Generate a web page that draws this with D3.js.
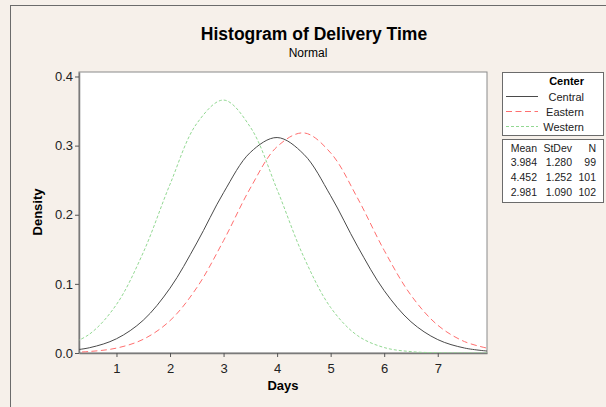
<!DOCTYPE html>
<html>
<head>
<meta charset="utf-8">
<script src="https://cdn.jsdelivr.net/npm/d3@7"></script>
<style>
  body { margin: 0; background: #f6f0ea; }
  svg { display: block; font-family: "Liberation Sans", Arial, sans-serif; }
</style>
</head>
<body>
<div id="chart"></div>
<script>
// values (fitted normal density per center)
const days = [0, 0.5, 1, 1.5, 2, 2.5, 3, 3.5, 4, 4.5, 5, 5.5, 6, 6.5, 7, 7.5, 8];
const central = [0.0025, 0.0077, 0.0206, 0.0474, 0.0938, 0.1592, 0.2320, 0.2902, 0.3117, 0.2874, 0.2275, 0.1546, 0.0902, 0.0452, 0.0194, 0.0072, 0.0023];
const eastern = [0.0006, 0.0022, 0.0071, 0.0198, 0.0468, 0.0945, 0.1626, 0.2386, 0.2985, 0.3184, 0.2895, 0.2244, 0.1484, 0.0836, 0.0402, 0.0165, 0.0057];
const western = [0.0087, 0.0275, 0.0702, 0.1454, 0.2441, 0.3320, 0.3659, 0.3268, 0.2364, 0.1386, 0.0658, 0.0253, 0.0079, 0.0020, 0.0004, 0.0001, 0.0000];

const centers = ["Central", "Eastern", "Western"];
const means = ["3.984", "4.452", "2.981"];
const stdevs = ["1.280", "1.252", "1.090"];
const counts = ["99", "101", "102"];

const xTicks = [1, 2, 3, 4, 5, 6, 7];
const yTicks = [0.0, 0.1, 0.2, 0.3, 0.4];

const W = 606, H = 407;
const plot = { left: 79, top: 72, right: 487, bottom: 353 };

const svg = d3.select("#chart").append("svg")
  .attr("width", W)
  .attr("height", H);

// outer frame
svg.append("rect")
  .attr("x", 0).attr("y", 0).attr("width", W).attr("height", H)
  .attr("fill", "#f6f0ea");
svg.append("rect")
  .attr("x", 10.5).attr("y", 5.5).attr("width", 700).attr("height", 500)
  .attr("fill", "none").attr("stroke", "#6b6b6b");

// title
svg.append("text")
  .attr("x", 314).attr("y", 40)
  .attr("text-anchor", "middle")
  .style("font-size", "17.5px").style("font-weight", "bold")
  .text("Histogram of Delivery Time");
svg.append("text")
  .attr("x", 308).attr("y", 57)
  .attr("text-anchor", "middle")
  .style("font-size", "12px")
  .text("Normal");

// scales
const x = d3.scaleLinear().domain([0.3, 7.92]).range([plot.left, plot.right]);
const y = d3.scaleLinear().domain([0, 0.4065]).range([plot.bottom, plot.top]);

svg.append("rect")
  .attr("x", plot.left).attr("y", plot.top)
  .attr("width", plot.right - plot.left).attr("height", plot.bottom - plot.top)
  .attr("fill", "#fff").attr("stroke", "#8a8a8a");

svg.append("clipPath").attr("id", "clip")
  .append("rect")
  .attr("x", plot.left).attr("y", plot.top)
  .attr("width", plot.right - plot.left).attr("height", plot.bottom - plot.top);

// axes
const xAxis = svg.append("g")
  .attr("transform", `translate(0,${plot.bottom})`)
  .call(d3.axisBottom(x).tickValues(xTicks).tickSize(4).tickSizeOuter(0).tickFormat(d3.format("d")));
const yAxis = svg.append("g")
  .attr("transform", `translate(${plot.left},0)`)
  .call(d3.axisLeft(y).tickValues(yTicks).tickSize(4).tickSizeOuter(0).tickFormat(d3.format(".1f")));

[xAxis, yAxis].forEach(g => {
  g.select(".domain").attr("stroke", "#7a7a7a").attr("stroke-width", 1.5);
  g.selectAll(".tick line").attr("stroke", "#555");
  g.selectAll(".tick text")
    .attr("fill", "#222")
    .style("font-size", "13px")
    .style("font-family", "'Liberation Sans', Arial, sans-serif");
});
xAxis.selectAll(".tick text").attr("dy", "1em");
yAxis.selectAll(".tick text").attr("x", -6);

svg.append("text")
  .attr("x", 283).attr("y", 390)
  .attr("text-anchor", "middle")
  .style("font-size", "13px").style("font-weight", "bold")
  .text("Days");
svg.append("text")
  .attr("transform", "translate(42,212) rotate(-90)")
  .attr("text-anchor", "middle")
  .style("font-size", "13px").style("font-weight", "bold")
  .text("Density");

// curves
const series = [
  { name: "Central", values: central, color: "#4a4a4a", dash: null },
  { name: "Eastern", values: eastern, color: "#ff6f6f", dash: "6,3.5" },
  { name: "Western", values: western, color: "#92d892", dash: "3,2" }
];

const line = d3.line()
  .x((d, i) => x(days[i]))
  .y(d => y(d))
  .curve(d3.curveCatmullRom);

const curves = svg.append("g").attr("clip-path", "url(#clip)");
series.forEach(s => {
  curves.append("path")
    .datum(s.values)
    .attr("d", line)
    .attr("fill", "none")
    .attr("stroke", s.color)
    .attr("stroke-width", 1)
    .attr("stroke-dasharray", s.dash);
});

// legend box
const lg = svg.append("g");
lg.append("rect")
  .attr("x", 502.5).attr("y", 72.5).attr("width", 101).attr("height", 63)
  .attr("fill", "#fff").attr("stroke", "#6b6b6b");
lg.append("text")
  .attr("x", 584).attr("y", 85)
  .attr("text-anchor", "end")
  .style("font-size", "11px").style("font-weight", "bold")
  .text("Center");
series.forEach((s, i) => {
  const yy = 96.5 + i * 15;
  lg.append("line")
    .attr("x1", 506).attr("x2", 538)
    .attr("y1", yy).attr("y2", yy)
    .attr("stroke", s.color)
    .attr("stroke-dasharray", s.dash);
  lg.append("text")
    .attr("x", 584).attr("y", yy + 4)
    .attr("text-anchor", "end")
    .style("font-size", "11px")
    .attr("fill", "#222")
    .text(centers[i]);
});

// stats box
const st = svg.append("g");
st.append("rect")
  .attr("x", 502.5).attr("y", 139.5).attr("width", 101).attr("height", 63)
  .attr("fill", "#fff").attr("stroke", "#6b6b6b");
const cols = [
  { head: "Mean", vals: means, x: 537 },
  { head: "StDev", vals: stdevs, x: 572 },
  { head: "N", vals: counts, x: 596 }
];
cols.forEach(c => {
  st.append("text")
    .attr("x", c.x).attr("y", 152)
    .attr("text-anchor", "end")
    .style("font-size", "10.5px").attr("fill", "#222")
    .text(c.head);
  c.vals.forEach((v, i) => {
    st.append("text")
      .attr("x", c.x).attr("y", 166 + i * 15)
      .attr("text-anchor", "end")
      .style("font-size", "10.5px").attr("fill", "#222")
      .text(v);
  });
});
</script>
</body>
</html>
